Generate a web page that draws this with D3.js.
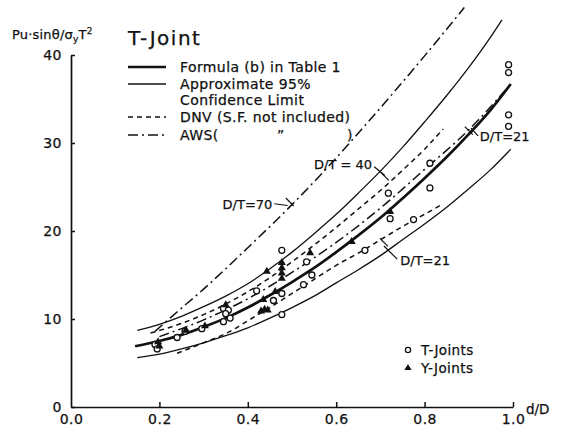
<!DOCTYPE html>
<html><head><meta charset="utf-8">
<script src="https://cdn.jsdelivr.net/npm/d3@7"></script>
<style>
body{margin:0;background:#fff;}
svg{display:block;}
text{font-family:"DejaVu Sans",sans-serif;fill:#111;stroke:#111;stroke-width:0.25px;}
</style></head>
<body><svg id="c" width="569" height="430"></svg>
<script>
// ---- data ----
const xTicks = [0, 0.2, 0.4, 0.6, 0.8, 1.0];
const xTickLabels = ["0.0", "0.2", "0.4", "0.6", "0.8", "1.0"];
const yTicks = [0, 10, 20, 30, 40];
const yTickLabels = ["0", "10", "20", "30", "40"];

const formulaB = [[0.145,6.9],[0.2,7.5],[0.25,8.2],[0.3,9.1],[0.35,10.1],[0.4,11.3],[0.45,12.7],[0.5,14.2],[0.55,15.8],[0.6,17.6],[0.65,19.5],[0.7,21.5],[0.75,23.7],[0.8,26.0],[0.85,28.4],[0.9,31.0],[0.95,33.8],[0.995,36.7]];
const upper95 = [[0.15,8.7],[0.2,9.4],[0.25,10.3],[0.3,11.4],[0.35,12.6],[0.4,14.0],[0.45,15.7],[0.5,17.6],[0.55,19.7],[0.6,21.9],[0.65,24.3],[0.7,26.8],[0.75,29.5],[0.8,32.4],[0.85,35.4],[0.9,38.6],[0.95,42.1],[0.975,44.0]];
const lower95 = [[0.15,5.6],[0.2,6.0],[0.25,6.6],[0.3,7.3],[0.35,8.1],[0.4,9.0],[0.45,10.1],[0.5,11.3],[0.55,12.6],[0.6,14.1],[0.65,15.6],[0.7,17.2],[0.75,19.0],[0.8,20.8],[0.85,22.7],[0.9,24.8],[0.95,27.0],[0.995,29.3]];
const dnv40 = [[0.18,8.4],[0.25,9.5],[0.3,10.5],[0.35,11.7],[0.4,13.1],[0.45,14.7],[0.5,16.5],[0.55,18.4],[0.6,20.4],[0.65,22.5],[0.7,24.6],[0.75,26.9],[0.8,29.3],[0.842,31.6]];
const dnv21 = [[0.24,6.1],[0.3,7.3],[0.36,8.6],[0.4,9.8],[0.45,11.3],[0.5,12.9],[0.55,14.5],[0.6,16.1],[0.654,17.6],[0.7,19.0],[0.75,20.5],[0.8,21.9],[0.842,23.1]];
const aws21 = [[0.2,8.0],[0.3,9.9],[0.4,12.3],[0.5,15.3],[0.6,18.7],[0.7,22.6],[0.8,27.0],[0.9,31.5],[0.99,36.4]];
const aws70 = [[0.19,8.6],[0.24,10.8],[0.3,13.4],[0.4,18.1],[0.5,23.0],[0.6,28.3],[0.7,34.0],[0.8,39.9],[0.89,45.4]];

const tJoints = [[0.19,7.1],[0.195,6.6],[0.24,7.9],[0.258,8.6],[0.296,8.9],[0.345,11.2],[0.356,11.0],[0.345,9.7],[0.36,10.1],[0.35,10.6],[0.42,13.2],[0.458,12.1],[0.477,12.9],[0.477,17.8],[0.477,10.5],[0.533,16.5],[0.545,15.0],[0.526,13.9],[0.665,17.8],[0.718,24.3],[0.722,21.4],[0.775,21.3],[0.812,27.7],[0.812,24.9],[0.99,38.9],[0.99,38.0],[0.99,33.2],[0.99,31.9]];
const yJoints = [[0.2,6.9],[0.197,7.4],[0.26,8.7],[0.303,9.2],[0.35,11.6],[0.43,10.9],[0.438,11.1],[0.445,11.0],[0.435,12.2],[0.443,15.4],[0.462,13.1],[0.477,14.6],[0.477,15.2],[0.477,15.8],[0.477,16.4],[0.541,17.5],[0.635,18.8],[0.722,22.2]];

// ---- drawing ----
const svg = d3.select("#c");
const x = d3.scaleLinear().domain([0, 1]).range([71, 513]);
const y = d3.scaleLinear().domain([0, 40]).range([407, 55]);
const ink = "#111";

// axes
const yAxis = d3.axisLeft(y).tickValues(yTicks).tickFormat((d,i)=>yTickLabels[i]).tickSize(-4).tickSizeOuter(0).tickPadding(9);
const xAxis = d3.axisBottom(x).tickValues(xTicks).tickFormat((d,i)=>xTickLabels[i]).tickSize(-5).tickSizeOuter(0).tickPadding(7);
const gy = svg.append("g").attr("transform", `translate(${x(0)},0)`).call(yAxis);
const gx = svg.append("g").attr("transform", `translate(0,${y(0)})`).call(xAxis);
[gx, gy].forEach(g => {
  g.select(".domain").attr("stroke", ink).attr("stroke-width", 1.7);
  g.selectAll(".tick line").attr("stroke", ink).attr("stroke-width", 1.5);
  g.selectAll(".tick text").style("font-family", '"DejaVu Sans",sans-serif').style("font-size", "14px")
    .attr("fill", ink).attr("stroke", ink).attr("stroke-width", 0.35).attr("letter-spacing", 0.5);
});
gx.selectAll(".tick").filter(d => d === 0).select("line").remove();

// axis titles
const yl = svg.append("text").attr("x", 12).attr("y", 39).style("font-size", "13px").attr("letter-spacing", 0.2);
yl.append("tspan").text("Pu·sinθ/σ");
yl.append("tspan").attr("dy", 3).style("font-size", "9px").text("y");
yl.append("tspan").attr("dy", -3).text("T");
yl.append("tspan").attr("dy", -5).style("font-size", "9px").text("2");
svg.append("text").attr("x", 526).attr("y", 414).style("font-size", "13.5px").text("d/D");

// curves
const line = d3.line().x(d => x(d[0])).y(d => y(d[1])).curve(d3.curveMonotoneX);
function curve(data, w, dash) {
  svg.append("path").datum(data).attr("d", line).attr("fill", "none")
    .attr("stroke", ink).attr("stroke-width", w).attr("stroke-dasharray", dash || null);
}
curve(upper95, 1.3);
curve(lower95, 1.3);
curve(formulaB, 2.7);
curve(dnv40, 1.5, "5,4");
curve(dnv21, 1.5, "5,4");
curve(aws21, 1.5, "10,4,2,4");
curve(aws70, 1.5, "10,4,2,4");

// data points
svg.append("g").selectAll("circle").data(tJoints).join("circle")
  .attr("cx", d => x(d[0])).attr("cy", d => y(d[1])).attr("r", 3)
  .attr("fill", "#fff").attr("stroke", ink).attr("stroke-width", 1.3);
const tri = d3.symbol().type(d3.symbolTriangle).size(28);
svg.append("g").selectAll("path").data(yJoints).join("path")
  .attr("transform", d => `translate(${x(d[0])},${y(d[1])})`).attr("d", tri).attr("fill", ink);

// curve annotations (leaders with tick marks)
const notes = [
  {label:"D/T=70", tx:0.343, ty:23.0, lx:[0.46,0.49], ly:[23.1,22.9], k:[0.495,23.3]},
  {label:"D/T = 40", tx:0.55, ty:27.6, lx:[0.686,0.71], ly:[27.3,26.3], k:[0.71,26.2]},
  {label:"D/T=21", tx:0.925, ty:30.7, lx:[0.905,0.921], ly:[31.7,30.8], k:[0.9,31.4]},
  {label:"D/T=21", tx:0.745, ty:16.6, lx:[0.708,0.738], ly:[18.3,16.8], k:[0.708,18.7]}
];
notes.forEach(n => {
  svg.append("text").attr("x", x(n.tx)).attr("y", y(n.ty)).attr("dy", "0.35em")
    .style("font-size", "13px").text(n.label);
  svg.append("line").attr("x1", x(n.lx[0])).attr("y1", y(n.ly[0])).attr("x2", x(n.lx[1])).attr("y2", y(n.ly[1]))
    .attr("stroke", ink).attr("stroke-width", 1.2);
  svg.append("line").attr("x1", x(n.k[0]) - 4).attr("y1", y(n.k[1]) - 4).attr("x2", x(n.k[0]) + 4).attr("y2", y(n.k[1]) + 4)
    .attr("stroke", ink).attr("stroke-width", 1.2);
});

// title & legend
svg.append("text").attr("x", 128).attr("y", 45).style("font-size", "20px").attr("letter-spacing", 1.5).text("T-Joint");
const leg = [
  {t:"Formula (b)  in Table 1", yy:67, w:2.7, dash:null},
  {t:"Approximate  95%", yy:84, w:1.3, dash:null},
  {t:"Confidence  Limit", yy:100, w:0, dash:null},
  {t:"DNV (S.F.  not included)", yy:117, w:1.5, dash:"5,4"},
  {t:"AWS(", yy:135, w:1.5, dash:"10,4,2,4"}
];
leg.forEach(l => {
  if (l.w > 0) svg.append("line").attr("x1", 128).attr("x2", 166).attr("y1", l.yy).attr("y2", l.yy)
    .attr("stroke", ink).attr("stroke-width", l.w).attr("stroke-dasharray", l.dash);
  svg.append("text").attr("x", 180).attr("y", l.yy).attr("dy", "0.36em").style("font-size", "14px")
    .attr("letter-spacing", 0.4).text(l.t);
});
svg.append("text").attr("x", 277).attr("y", 135).attr("dy", "0.36em").style("font-size", "14px").text("\u201D");
svg.append("text").attr("x", 347).attr("y", 135).attr("dy", "0.36em").style("font-size", "14px").text(")");

// points legend
svg.append("circle").attr("cx", 408).attr("cy", 350).attr("r", 2.6).attr("fill", "#fff").attr("stroke", ink).attr("stroke-width", 1.3);
svg.append("text").attr("x", 421).attr("y", 350).attr("dy", "0.36em").style("font-size", "13.5px").attr("letter-spacing", 0.4).text("T-Joints");
svg.append("path").attr("transform", "translate(408,368)").attr("d", d3.symbol().type(d3.symbolTriangle).size(22)).attr("fill", ink);
svg.append("text").attr("x", 421).attr("y", 368).attr("dy", "0.36em").style("font-size", "13.5px").attr("letter-spacing", 0.4).text("Y-Joints");
</script></body></html>
